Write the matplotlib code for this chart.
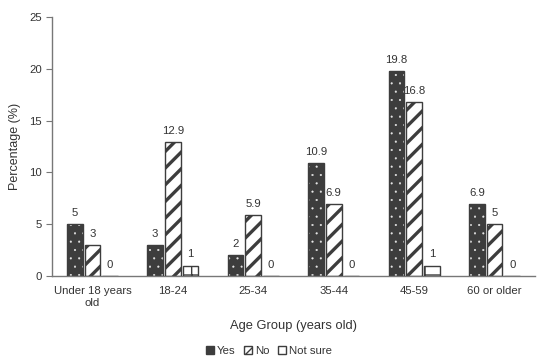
import matplotlib
matplotlib.use("Agg")
import matplotlib.pyplot as plt
import numpy as np
from matplotlib.patches import Patch

plt.rcParams['font.family'] = ['Liberation Sans', 'DejaVu Sans']

categories = ["Under 18 years\nold", "18-24", "25-34", "35-44", "45-59", "60 or older"]
yes_vals = [5, 3, 2, 10.9, 19.8, 6.9]
no_vals = [3, 12.9, 5.9, 6.9, 16.8, 5]
notsure_vals = [0, 1, 0, 0, 1, 0]
series_names = ["Yes", "No", "Not sure"]
y_ticks = [0, 5, 10, 15, 20, 25]

dark = "#3d3d3d"
txt = "#333333"

fig = plt.figure(figsize=(5.38, 3.63), dpi=100)
ax = fig.add_axes([0.097, 0.24, 0.897, 0.713])

x = np.arange(len(categories))
w = 0.195
step = 0.22


def draw_series(pos, vals, face, hatch_color, hatch, hatch_lw):
    with plt.rc_context({'hatch.linewidth': hatch_lw}):
        # hatch layer: hatch colour comes from the edge colour
        bars = ax.bar(pos, vals, w, color=face, edgecolor=hatch_color, hatch=hatch,
                      linewidth=0, zorder=2)
        for b in bars:
            if hasattr(b, "set_hatch_linewidth"):
                b.set_hatch_linewidth(hatch_lw)
    # outline layer
    ax.bar(pos, vals, w, fill=False, edgecolor=dark, linewidth=1.0, zorder=3)
    for xi, v in zip(pos, vals):
        ax.text(xi, v + 0.6, f"{v:g}", ha="center", va="bottom", fontsize=8.2, color=txt)


draw_series(x - step, yes_vals, dark, "#e8e8e8", "..", 0.3)
draw_series(x, no_vals, "white", dark, "//", 2.4)
draw_series(x + step, notsure_vals, "white", dark, "+", 1.0)

ax.set_xlim(-0.5, len(categories) - 0.5)
ax.set_ylim(0, 25)
ax.set_yticks(y_ticks)
ax.set_xticks(x)
ax.set_xticklabels(categories, fontsize=8.2, color=txt, linespacing=1.25)
ax.tick_params(axis="x", length=0, pad=7)
ax.tick_params(axis="y", labelsize=8.2, labelcolor=txt, color="#777777", length=4, direction="out")
for s in ["top", "right"]:
    ax.spines[s].set_visible(False)
for s in ["left", "bottom"]:
    ax.spines[s].set_color("#777777")
    ax.spines[s].set_linewidth(1.0)

ax.set_ylabel("Percentage (%)", fontsize=9, color=txt, labelpad=6)
ax.set_xlabel("Age Group (years old)", fontsize=9.3, color=txt, labelpad=9)

handles = [
    Patch(facecolor=dark, edgecolor=dark),
    Patch(facecolor="white", edgecolor=dark, hatch="////"),
    Patch(facecolor="white", edgecolor=dark, hatch="-"),
]
fig.legend(handles, series_names, loc="lower center", bbox_to_anchor=(0.5, -0.01), ncol=3,
           frameon=False, fontsize=8.2, handlelength=0.7, handleheight=0.7,
           handletextpad=0.2, columnspacing=0.8, labelcolor=txt)

fig.savefig("out.png", dpi=100)
